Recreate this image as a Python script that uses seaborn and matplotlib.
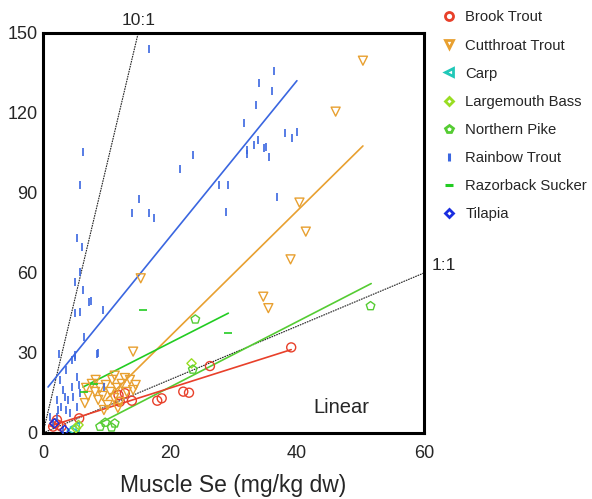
import numpy as np
import pandas as pd
import matplotlib
matplotlib.use("Agg")
import matplotlib.pyplot as plt
from matplotlib.lines import Line2D
import seaborn as sns

sns.set_style("white")
plt.rcParams['font.family'] = ['Liberation Sans', 'DejaVu Sans']

# species, marker, colour
species = ["Brook Trout", "Cutthroat Trout", "Carp", "Largemouth Bass",
           "Northern Pike", "Rainbow Trout", "Razorback Sucker", "Tilapia"]
markers = ["o", "v", "<", "D", "p", "|", "_", "D"]
colors = ["#e8402a", "#e8a030", "#20c8b8", "#99dd22",
          "#55cc33", "#3a66e0", "#22cc22", "#1a2ee0"]

# muscle Se (x) vs whole body / other tissue Se (y)
brook_x = [39.1, 26.3, 22.1, 23.0, 18.0, 18.7, 12.9, 11.9, 14.0, 12.1, 5.7, 2.2, 2.4, 1.6, 2.9, 1.9]
brook_y = [32.1, 25.1, 15.5, 15.1, 12.1, 13.0, 14.9, 14.2, 12.1, 11.7, 5.5, 4.9, 3.0, 2.4, 2.4, 3.6]

cutthroat_x = [50.4, 46.1, 40.4, 41.4, 39.0, 34.7, 35.5, 15.4, 14.2,
               6.8, 7.1, 6.6, 7.7, 8.2, 8.7, 9.0, 9.4, 9.9, 10.2, 10.6, 10.9, 11.2,
               11.7, 12.1, 12.4, 12.9, 13.2, 13.7, 14.2, 14.6, 9.6, 8.3, 11.3, 11.8]
cutthroat_y = [139.6, 120.5, 86.4, 75.5, 65.1, 51.1, 46.8, 58.0, 30.5,
               16.9, 13.9, 11.2, 18.4, 15.4, 12.4, 16.9, 13.9, 18.0, 10.5, 15.4, 19.9, 13.1,
               16.9, 11.6, 18.4, 20.6, 15.4, 19.9, 16.1, 18.0, 8.6, 19.9, 21.5, 9.4]

carp_x = [4.5, 5.0]
carp_y = [1.1, 2.2]

bass_x = [5.6, 5.2, 23.4]
bass_y = [3.0, 1.8, 26.1]

pike_x = [9.0, 9.8, 10.8, 11.3, 23.6, 24.0, 51.6]
pike_y = [2.4, 3.9, 2.1, 3.6, 23.8, 42.6, 47.6]

rainbow_x = [16.7, 36.4, 34.1, 36.1, 33.6, 31.6, 33.9, 33.2, 32.2, 32.2, 34.8, 35.2, 35.6,
             38.1, 39.3, 40.0, 23.7, 21.6, 27.7, 29.1, 36.8, 28.9, 15.1, 14.0, 16.7, 17.5,
             6.25, 5.9, 5.4, 6.2, 5.8, 5.1, 6.25, 7.2, 7.6, 9.4, 5.1, 5.9, 6.4, 2.6, 5.1, 8.5,
             2.7, 3.7, 4.5, 5.0, 5.3, 3.2, 4.0, 2.9, 4.8, 3.7, 2.2, 1.6, 5.8, 4.5, 5.6, 3.5,
             2.4, 1.1, 4.2, 3.2, 5.3, 2.2, 8.7, 9.6]
rainbow_y = [144.0, 135.7, 131.4, 128.4, 122.9, 116.4, 109.9, 108.0, 106.0, 104.6, 106.7, 107.4, 103.6,
             112.4, 110.5, 112.9, 104.1, 99.1, 92.9, 93.1, 88.6, 82.9, 87.6, 82.4, 82.4, 80.7,
             105.5, 93.0, 73.0, 69.9, 60.5, 56.7, 53.6, 49.2, 49.6, 46.1, 44.9, 45.5, 36.1, 29.6, 28.6, 29.6,
             19.9, 23.6, 27.4, 29.2, 21.1, 16.1, 12.4, 9.9, 13.6, 8.6, 6.1, 3.7, 15.0, 17.4, 18.0, 13.6,
             8.6, 6.1, 7.4, 1.1, 9.9, 12.4, 29.9, 17.4]

razorback_x = [15.7, 29.2, 6.5, 8.0]
razorback_y = [46.1, 37.6, 15.5, 18.5]

tilapia_x = [3.4, 1.8]
tilapia_y = [1.1, 3.6]

all_x = [brook_x, cutthroat_x, carp_x, bass_x, pike_x, rainbow_x, razorback_x, tilapia_x]
all_y = [brook_y, cutthroat_y, carp_y, bass_y, pike_y, rainbow_y, razorback_y, tilapia_y]

# linear fits per species, as drawn
fit_species = ["Rainbow Trout", "Cutthroat Trout", "Razorback Sucker", "Northern Pike", "Brook Trout"]
fit_x0 = [0.8, 10.0, 6.3, 9.0, 1.1]
fit_x1 = [40.0, 50.4, 29.2, 51.7, 39.1]
fit_slope = [2.93, 2.35, 1.21, 1.225, 0.755]
fit_intercept = [14.9, -10.8, 9.6, -7.3, 1.74]

# reference ratio lines
ratio_labels = ["10:1", "1:1"]
ratio_slope = [10, 1]

fig, ax = plt.subplots(figsize=(5.92, 4.99), dpi=100)
fig.subplots_adjust(left=0.0726, right=0.716, bottom=0.1323, top=0.9339)

# ratio lines
for lab, k in zip(ratio_labels, ratio_slope):
    xe = min(60, 150 / k)
    ax.plot([0, xe], [0, k * xe], color="#222222", lw=0.8, ls=(0, (1.5, 0.8)), zorder=1)
ax.text(150 / ratio_slope[0], 152, ratio_labels[0], ha="center", va="bottom", fontsize=12.5)
ax.text(61.2, 60 * ratio_slope[1], ratio_labels[1], ha="left", va="bottom", fontsize=12.5)

# fitted lines
fits = []
for sp, x0, x1, m, b in zip(fit_species, fit_x0, fit_x1, fit_slope, fit_intercept):
    for xv in (x0, x1):
        fits.append({"species": sp, "x": xv, "y": m * xv + b})
fits = pd.DataFrame(fits)
for sp in fit_species:
    c = colors[species.index(sp)]
    sub = fits[fits.species == sp]
    sns.lineplot(data=sub, x="x", y="y", color=c, lw=1.2, ax=ax, zorder=2)

# points
for sp, mk, c, xs, ys in zip(species, markers, colors, all_x, all_y):
    if mk in ("|", "_"):
        sns.scatterplot(x=xs, y=ys, marker=mk, color=c, s=40, linewidth=1.2, ax=ax, zorder=3)
    else:
        sz = 22 if mk == "D" else 42
        sns.scatterplot(x=xs, y=ys, marker=mk, s=sz, facecolors="none",
                        edgecolor=c, linewidth=1.0, ax=ax, zorder=3)

ax.text(47, 9.5, "Linear", ha="center", va="center", fontsize=14.5)

ax.set_xlim(0, 60)
ax.set_ylim(0, 150)
ax.set_xticks([0, 20, 40, 60])
ax.set_yticks([0, 30, 60, 90, 120, 150])
ax.tick_params(direction="in", length=7, width=1, color="#444444", labelsize=13)
ax.tick_params(axis="x", pad=9)
ax.tick_params(axis="y", pad=4)
ax.set_xlabel("Muscle Se (mg/kg dw)", fontsize=16.5, labelpad=8)
ax.set_ylabel("")
for s in ax.spines.values():
    s.set_linewidth(2.2)
    s.set_color("black")

handles = []
for sp, mk, c in zip(species, markers, colors):
    if mk in ("|", "_"):
        h = Line2D([], [], ls="none", marker=mk, color=c, markersize=6, markeredgewidth=2.2)
    else:
        ms = 4.5 if mk == "D" else 5.8
        h = Line2D([], [], ls="none", marker=mk, markerfacecolor="none",
                   markeredgecolor=c, markersize=ms, markeredgewidth=2.0)
    handles.append(h)
fig.legend(handles, species, loc="upper left", bbox_to_anchor=(0.728, 1.0),
           frameon=False, fontsize=10.7, handletextpad=0.6, labelspacing=0.95,
           handlelength=1.0, borderaxespad=0.3)

fig.savefig("out.png", dpi=100)
